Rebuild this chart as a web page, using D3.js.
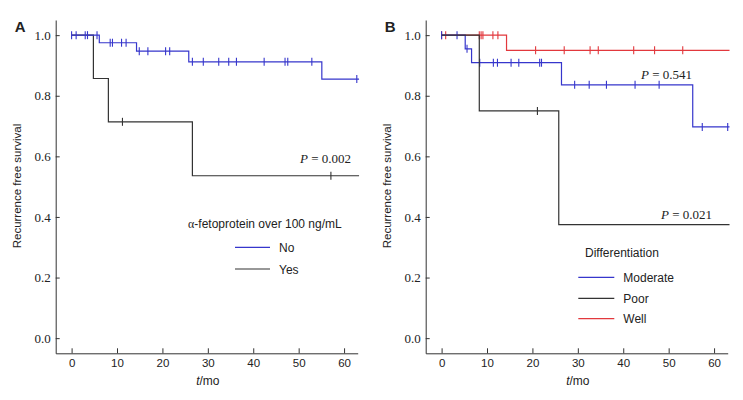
<!DOCTYPE html>
<html>
<head>
<meta charset="utf-8">
<script src="https://cdn.jsdelivr.net/npm/d3@7"></script>
<style>
  body { margin: 0; background: #fff; }
  svg text { font-family: Tahoma, "Liberation Sans", Arial, sans-serif; fill: #222; }
</style>
</head>
<body>
<div id="chart"></div>
<script>
// time axis ticks (months) and survival ticks
const timeTicks = [0, 10, 20, 30, 40, 50, 60];
const survTicks = [0, 0.2, 0.4, 0.6, 0.8, 1.0];

// panel A: alpha-fetoprotein over 100 ng/mL
const afpNoTimes = [0, 6.1, 14.3, 25.8, 55.1, 63.3];
const afpNoSurv = [1, 0.975, 0.947, 0.912, 0.855, 0.855];
const afpNoCensor = [0, 1, 3, 3.5, 5.6, 8.5, 9, 11, 12, 14.9, 16.8, 20.7, 21.6, 26.6, 29, 32.4, 34.6, 36.3, 42.4, 47, 47.6, 52.9, 62.8];

const afpYesTimes = [0, 4.8, 8.1, 26.6, 63.3];
const afpYesSurv = [1, 0.857, 0.714, 0.536, 0.536];
const afpYesCensor = [11.2, 57.1];

// panel B: differentiation
const modTimes = [0, 5.2, 6.6, 26.4, 55.3, 63.4];
const modSurv = [1, 0.955, 0.909, 0.836, 0.697, 0.697];
const modCensor = [0, 3.4, 5.6, 8.4, 11.4, 12.3, 15.3, 17, 21.6, 22, 29.3, 32.5, 36.3, 42.6, 47.9, 57.4, 63];

const poorTimes = [0, 8.3, 25.8, 63.4];
const poorSurv = [1, 0.75, 0.375, 0.375];
const poorCensor = [21.1];

const wellTimes = [0, 14.3, 63.4];
const wellSurv = [1, 0.95, 0.95];
const wellCensor = [0, 0.9, 8.3, 8.7, 9.1, 11.3, 12.4, 20.7, 27, 32.7, 34.5, 42.3, 46.9, 53.1];

const BLUE = "#3636cc", BLACK = "#333333", RED = "#e2383d";

const svg = d3.select("#chart").append("svg")
    .attr("width", 743)
    .attr("height", 400);

const y = d3.scaleLinear().domain([-0.05, 1.05]).range([353.3, 20]);

function survAt(times, surv, t) {
    let s = surv[0];
    for (let i = 0; i < times.length; i++) {
        if (times[i] <= t) s = surv[i];
    }
    return s;
}

function drawPanel(left, right, letter, groups) {
    const x = d3.scaleLinear().domain([-3.5, 63]).range([left, right]);
    const g = svg.append("g");

    const xAxis = g.append("g")
        .attr("transform", "translate(0,353.3)")
        .call(d3.axisBottom(x).tickValues(timeTicks).tickSizeInner(-5).tickSizeOuter(0).tickPadding(6));
    xAxis.selectAll("text").style("font-size", "11.5px");

    const yAxis = g.append("g")
        .attr("transform", `translate(${left},0)`)
        .call(d3.axisLeft(y).tickValues(survTicks).tickFormat(d3.format(".1f")).tickSizeInner(-4).tickSizeOuter(0).tickPadding(5));
    yAxis.selectAll("text")
        .style("font-family", "'Liberation Serif', 'DejaVu Serif', serif")
        .style("font-size", "13px");
    g.selectAll(".domain, .tick line").attr("stroke", "#333");

    g.append("text")
        .attr("transform", `translate(${left - 35},186) rotate(-90)`)
        .attr("text-anchor", "middle")
        .style("font-size", "11.5px")
        .text("Recurrence free survival");

    const xl = g.append("text")
        .attr("x", x(30))
        .attr("y", 385)
        .attr("text-anchor", "middle")
        .style("font-size", "12px");
    xl.append("tspan").style("font-style", "italic").text("t");
    xl.append("tspan").text("/mo");

    g.append("text")
        .attr("x", left - 41)
        .attr("y", 32)
        .style("font-size", "15px")
        .style("font-weight", "bold")
        .text(letter);

    const line = d3.line()
        .x(d => x(d[0]))
        .y(d => y(d[1]))
        .curve(d3.curveStepAfter);

    groups.forEach(grp => {
        const pts = grp.times.map((t, i) => [t, grp.surv[i]]);
        g.append("path")
            .attr("d", line(pts))
            .attr("fill", "none")
            .attr("stroke", grp.color)
            .attr("stroke-width", 1.2);
        g.selectAll(null)
            .data(grp.censor)
            .enter()
            .append("line")
            .attr("x1", d => x(d))
            .attr("x2", d => x(d))
            .attr("y1", d => y(survAt(grp.times, grp.surv, d)) - 4)
            .attr("y2", d => y(survAt(grp.times, grp.surv, d)) + 4)
            .attr("stroke", grp.color)
            .attr("stroke-width", 1.1);
    });
    return x;
}

function pLabel(px, py, val) {
    const t = svg.append("text")
        .attr("x", px)
        .attr("y", py)
        .attr("text-anchor", "end")
        .style("font-family", "'Liberation Serif', 'DejaVu Serif', serif")
        .style("font-size", "13px");
    t.append("tspan").style("font-style", "italic").text("P");
    t.append("tspan").text(" = " + val);
}

function legend(tx, ty, title, x1, x2, items) {
    const t = svg.append("text")
        .attr("x", tx)
        .attr("y", ty)
        .style("font-size", "12px");
    if (title.startsWith("α")) {
        t.append("tspan").style("font-family", "'Liberation Serif', serif").text("α");
        t.append("tspan").text(title.slice(1));
    } else {
        t.text(title);
    }
    items.forEach(it => {
        svg.append("line")
            .attr("x1", x1).attr("x2", x2)
            .attr("y1", it.y).attr("y2", it.y)
            .attr("stroke", it.color)
            .attr("stroke-width", 1.2);
        svg.append("text")
            .attr("x", x2 + 9)
            .attr("y", it.y + 4.5)
            .style("font-size", "12px")
            .text(it.label);
    });
}

// panel A
drawPanel(55.7, 357.7, "A", [
    { times: afpYesTimes, surv: afpYesSurv, censor: afpYesCensor, color: BLACK },
    { times: afpNoTimes, surv: afpNoSurv, censor: afpNoCensor, color: BLUE }
]);
pLabel(351, 163, "0.002");
legend(188, 228, "α-fetoprotein over 100 ng/mL", 235, 270, [
    { y: 247.3, color: BLUE, label: "No" },
    { y: 269, color: BLACK, label: "Yes" }
]);

// panel B
drawPanel(425.7, 727.7, "B", [
    { times: wellTimes, surv: wellSurv, censor: wellCensor, color: RED },
    { times: modTimes, surv: modSurv, censor: modCensor, color: BLUE },
    { times: poorTimes, surv: poorSurv, censor: poorCensor, color: BLACK }
]);
pLabel(692, 79, "0.541");
pLabel(712, 219, "0.021");
legend(585, 257, "Differentiation", 578.3, 614.3, [
    { y: 277.3, color: BLUE, label: "Moderate" },
    { y: 298.3, color: BLACK, label: "Poor" },
    { y: 318.7, color: RED, label: "Well" }
]);
</script>
</body>
</html>
